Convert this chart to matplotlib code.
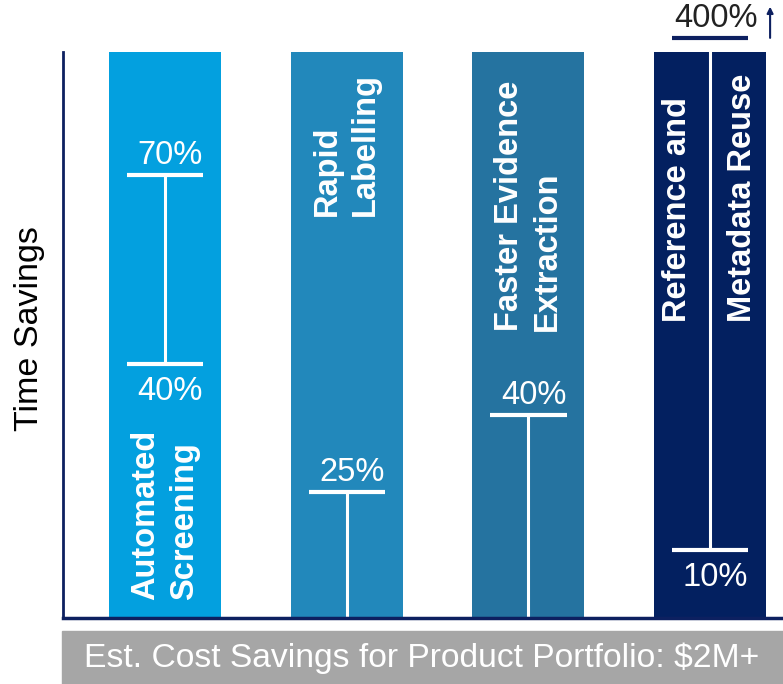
import matplotlib.pyplot as plt
from matplotlib.patches import Rectangle

plt.rcParams['font.family'] = ['Liberation Sans', 'DejaVu Sans']

# data
categories = ["Automated\nScreening", "Rapid\nLabelling",
              "Faster Evidence\nExtraction", "Reference and\nMetadata Reuse"]
bar_colors = ["#03a0df", "#2288bb", "#2573a0", "#032060"]
bar_height = [100, 100, 100, 100]
# range lines in chart units (0 = baseline, 100 = top of bars)
range_lo = [44.9, 0, 0, 12.0]
range_hi = [78.3, 22.3, 35.9, 102.5]
lo_labels = ["40%", None, None, "10%"]
hi_labels = ["70%", "25%", "40%", "400%"]
cap_lo = [True, False, False, True]
hi_cap_colors = ["white", "white", "white", "#0d2060"]
hi_label_colors = ["white", "white", "white", "#222222"]
xlabel = "Est. Cost Savings for Product Portfolio: $2M+"
ylabel = "Time Savings"

navy = "#0d2060"
x = list(range(len(categories)))

fig = plt.figure(figsize=(7.83, 6.84), dpi=100)
ax = fig.add_axes([63 / 783, 1 - 618 / 684, 720 / 783, 566 / 684])
ax.set_xlim(-0.561, 3.401)
ax.set_ylim(0, 100)

ax.bar(x, bar_height, width=0.617, color=bar_colors, zorder=1)

# range lines and caps
half = 0.21
for i in x:
    ax.vlines(i, range_lo[i], range_hi[i], color="white", lw=2.2,
              zorder=2, clip_on=False)
    ax.hlines(range_hi[i], i - half, i + half, color=hi_cap_colors[i],
              lw=3, zorder=3, clip_on=False)
    if cap_lo[i]:
        ax.hlines(range_lo[i], i - half, i + half, color="white", lw=3,
                  zorder=3)
    ax.text(i + 0.03, range_hi[i] + 1.9, hi_labels[i], color=hi_label_colors[i],
            fontsize=23.5, ha="center", va="baseline", clip_on=False)
    if lo_labels[i]:
        ax.text(i + 0.03, range_lo[i] - 6.3, lo_labels[i], color="white",
                fontsize=23.5, ha="center", va="baseline")

# arrow for the off-chart value
ax.annotate("", xy=(3.33, 108.5), xytext=(3.33, 102.0),
            arrowprops=dict(arrowstyle="-|>", color=navy, lw=1.5,
                            mutation_scale=9),
            annotation_clip=False)

# category labels inside bars
label_bottom = [3.2, 71.0, 50.7, 52.3]
for i in x:
    sp = 2.4 if i == 3 else 1.3
    ax.text(i, label_bottom[i], categories[i], rotation=90, color="white",
            fontsize=23.5, fontweight="bold", ha="center", va="bottom",
            multialignment="left", linespacing=sp)

for s in ["top", "right"]:
    ax.spines[s].set_visible(False)
ax.spines["left"].set_color(navy)
ax.spines["left"].set_linewidth(2)
ax.spines["bottom"].set_color(navy)
ax.spines["bottom"].set_linewidth(2.5)
ax.set_xticks([])
ax.set_yticks([])

fig.text(29.5 / 783, 1 - 329 / 684, ylabel, rotation=90, fontsize=24.5,
         ha="center", va="center", color="black")

fig.add_artist(Rectangle((62 / 783, 0), 721 / 783, 53 / 684,
                         transform=fig.transFigure, color="#a6a6a6"))
fig.text(422 / 783, 1 - 658 / 684, xlabel, fontsize=24.2, color="white",
         ha="center", va="center")

fig.savefig("out.png", dpi=100)
